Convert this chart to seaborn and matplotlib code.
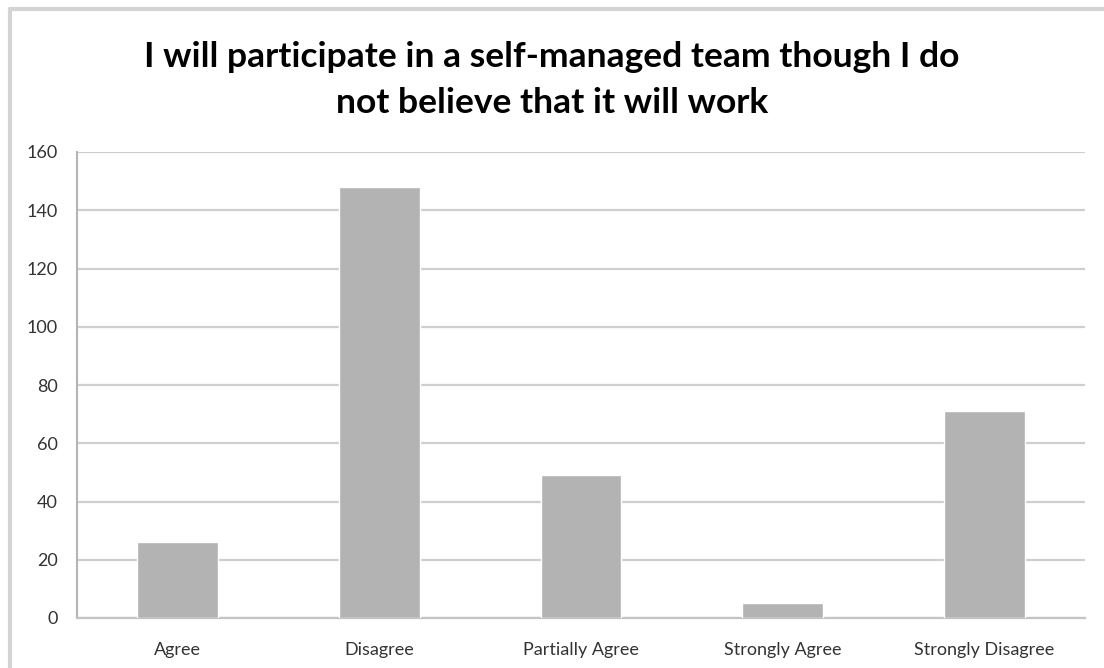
import matplotlib
matplotlib.use("Agg")
import matplotlib.pyplot as plt
from matplotlib.lines import Line2D
import seaborn as sns
import pandas as pd

categories = ["Agree", "Disagree", "Partially Agree", "Strongly Agree", "Strongly Disagree"]
counts = [26, 148, 49, 5, 71]
y_ticks = [0, 20, 40, 60, 80, 100, 120, 140, 160]
title = "I will participate in a self-managed team though I do\nnot believe that it will work"

sns.set_theme(style="white")
plt.rcParams["font.family"] = ["Lato", "DejaVu Sans"]

df = pd.DataFrame({"response": categories, "count": counts})

fig = plt.figure(figsize=(11.04, 6.68), dpi=100)
ax = fig.add_axes([77 / 1104, 1 - 618 / 668, (1085 - 77) / 1104, (618 - 152) / 668])

sns.barplot(data=df, x="response", y="count", color="#b3b3b3", width=0.4,
            saturation=1, ax=ax, zorder=3)

ax.set_ylim(0, 160)
ax.set_xlim(-0.5, len(categories) - 0.5)
ax.set_yticks(y_ticks)
ax.set_yticklabels([str(v) for v in y_ticks])
ax.yaxis.grid(True, color="#cfcfcf", linewidth=1.6, zorder=0)
ax.set_axisbelow(True)

# category separators on the x axis
ax.set_xticks([i - 0.5 for i in range(len(categories) + 1)], minor=True)
ax.tick_params(axis="x", which="minor", length=6, width=1.5, color="#bdbdbd", direction="out")
ax.tick_params(axis="x", which="major", length=0, pad=17, labelsize=13, labelcolor="#333333")
ax.tick_params(axis="y", length=5, width=1.5, color="#cfcfcf", direction="out",
               pad=9, labelsize=13, labelcolor="#333333")

for side in ["top", "right"]:
    ax.spines[side].set_visible(False)
ax.spines["left"].set_color("#b4b4b4")
ax.spines["left"].set_linewidth(1.5)
ax.spines["bottom"].set_color("#c4c4c4")
ax.spines["bottom"].set_linewidth(1.6)

ax.set_xlabel("")
ax.set_ylabel("")

fig.text(0.5, 1 - 80 / 668, title, ha="center", va="center", fontsize=25.5,
         fontweight="bold", color="#000000", linespacing=1.55)

# outer chart frame
fig.add_artist(Line2D([10 / 1104, 10 / 1104], [0, 1 - 8.5 / 668], transform=fig.transFigure,
                      color="#d4d4d4", linewidth=3))
fig.add_artist(Line2D([10 / 1104, 1], [1 - 8.5 / 668, 1 - 8.5 / 668], transform=fig.transFigure,
                      color="#d4d4d4", linewidth=3))

fig.savefig("out.png", dpi=100)
